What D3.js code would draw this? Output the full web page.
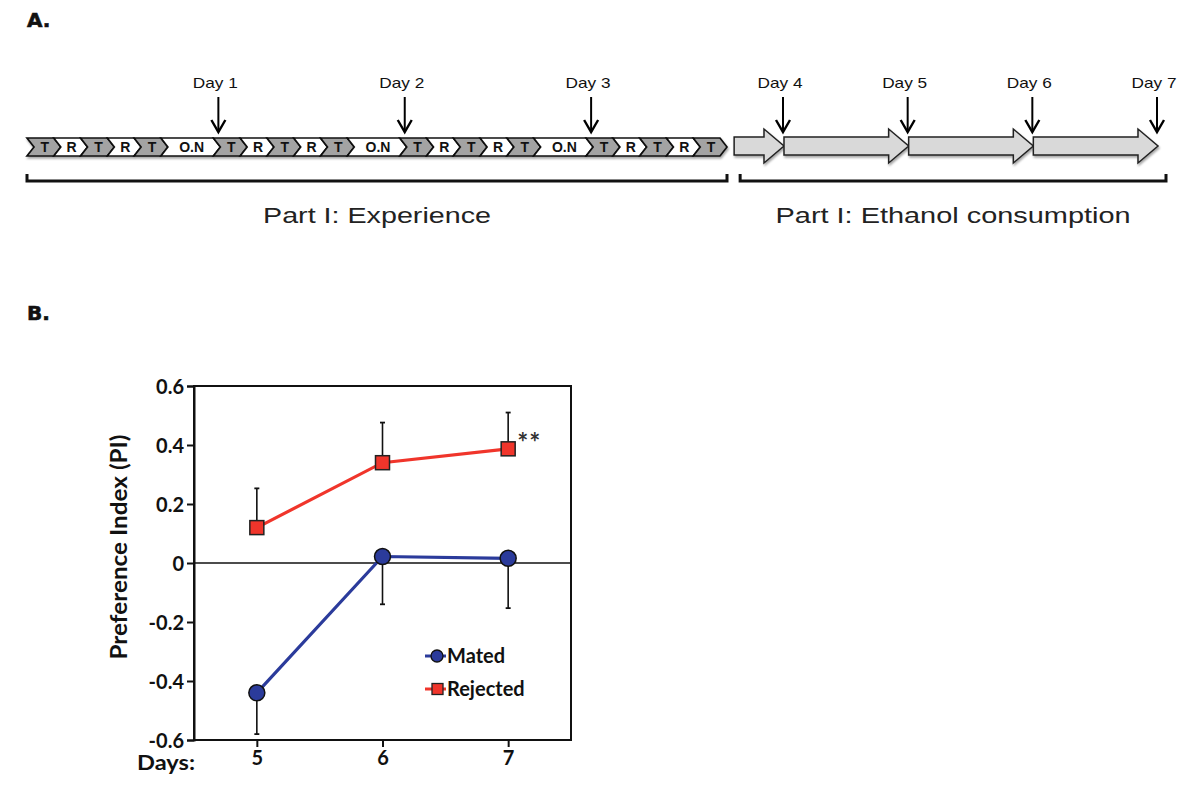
<!DOCTYPE html>
<html><head><meta charset="utf-8">
<script src="https://cdn.jsdelivr.net/npm/d3@7"></script>
<style>body{margin:0;background:#fff}svg{display:block}</style>
</head><body>
<svg id="c" width="1200" height="795"></svg>
<script>
// ---------- Data ----------
// Part A: experience schedule (label, relative duration)
const scheduleLabels = ["T","R","T","R","T","O.N","T","R","T","R","T","O.N","T","R","T","R","T","O.N","T","R","T","R","T"];
const scheduleDurations = [1,1,1,1,1,1.96,1,1,1,1,1,1.96,1,1,1,1,1,1.96,1,1,1,1,1];
const experienceDays = ["Day 1","Day 2","Day 3"];
const ethanolBounds = [3.6, 4, 5, 6, 7];
const ethanolDays = ["Day 4","Day 5","Day 6","Day 7"];
const partLabels = ["Part I: Experience","Part I: Ethanol consumption"];
// Part B: preference index
const days = [5, 6, 7];
const mated = [-0.44, 0.022, 0.016];
const matedErr = [0.14, 0.162, 0.169];
const rejected = [0.12, 0.34, 0.387];
const rejectedErr = [0.133, 0.136, 0.123];
const yTicks = [0.6, 0.4, 0.2, 0, -0.2, -0.4, -0.6];
const seriesNames = ["Mated", "Rejected"];

const svg = d3.select("#c");
const defs = svg.append("defs");
const f = defs.append("filter").attr("id","sh").attr("x","-10%").attr("y","-30%").attr("width","130%").attr("height","180%");
f.append("feDropShadow").attr("dx",1).attr("dy",2).attr("stdDeviation",1.3).attr("flood-color","#000").attr("flood-opacity",0.35);

const helv = "'Liberation Sans', Arial, sans-serif";
const cal = "Lato, 'Open Sans', sans-serif";

// Panel letters
[["A.",27],["B.",320]].forEach(([t,yy]) =>
  svg.append("text").attr("x",27).attr("y",yy).text(t).attr("font-family","'DejaVu Sans', sans-serif")
    .attr("font-weight",700).attr("font-size",20).attr("fill","#111").attr("stroke","#111").attr("stroke-width",0.6));

// ---------- Part A ----------
const cum = [0]; scheduleDurations.forEach(d => cum.push(cum[cum.length-1] + d));
const tx = d3.scaleLinear().domain([0, cum[cum.length-1]]).range([34, 727]);
const dep = 7, yTop = 138, yBot = 156, yMid = (yTop+yBot)/2;
const gA = svg.append("g");
const chev = gA.append("g").attr("filter","url(#sh)");
scheduleLabels.forEach((lab, i) => {
  const a = tx(cum[i]), b = tx(cum[i+1]);
  const pts = [[a-dep,yTop],[b-dep,yTop],[b,yMid],[b-dep,yBot],[a-dep,yBot],[a,yMid]];
  chev.append("path").attr("d", d3.line()(pts) + "Z")
    .attr("fill", lab === "T" ? "#a3a3a3" : "#ffffff")
    .attr("stroke","#111").attr("stroke-width",1.7).attr("stroke-linejoin","miter");
});
scheduleLabels.forEach((lab, i) => {
  const a = tx(cum[i]), b = tx(cum[i+1]);
  gA.append("text").attr("x",(a+b)/2 - dep/2 + 1).attr("y",yMid+5).attr("text-anchor","middle")
    .attr("font-family",helv).attr("font-weight",700).attr("font-size",14).attr("fill","#111").text(lab);
});

// big arrows
const ex = d3.scaleLinear().domain([4,7]).range([784,1158]);
const bTop = 137, bBot = 155, hTop = 129, hBot = 163, hLen = 20;
const big = gA.append("g").attr("filter","url(#sh)");
for (let i = 0; i < ethanolBounds.length-1; i++) {
  const a = ex(ethanolBounds[i]), b = ex(ethanolBounds[i+1]);
  const pts = [[a,bTop],[b-hLen,bTop],[b-hLen,hTop],[b,(bTop+bBot)/2],[b-hLen,hBot],[b-hLen,bBot],[a,bBot]];
  big.append("path").attr("d", d3.line()(pts)+"Z").attr("fill","#d9d9d9").attr("stroke","#222").attr("stroke-width",1.5);
}

// day arrows
function dayArrow(x, label) {
  const g = gA.append("g");
  g.append("line").attr("x1",x).attr("x2",x).attr("y1",97).attr("y2",132).attr("stroke","#000").attr("stroke-width",2);
  g.append("path").attr("d", d3.line()([[x-7,120],[x,132],[x+7,120]])).attr("fill","none").attr("stroke","#000").attr("stroke-width",2.4);
  g.append("text").attr("x",x-3).attr("y",88).attr("text-anchor","middle").attr("font-family",helv).attr("font-size",14.5)
    .attr("textLength",45).attr("lengthAdjust","spacingAndGlyphs").attr("fill","#111").text(label);
}
let k = 0;
scheduleLabels.forEach((lab, i) => { if (lab === "O.N") { dayArrow(tx(cum[i+1]) - 2, experienceDays[k++]); } });
ethanolDays.forEach((lab, i) => dayArrow(ex(ethanolBounds[i+1]) - 1, lab));

// brackets
function bracket(x1, x2, label, len) {
  gA.append("path").attr("d", d3.line()([[x1,174],[x1,181],[x2,181],[x2,174]]))
    .attr("fill","none").attr("stroke","#111").attr("stroke-width",3);
  gA.append("text").attr("x",(x1+x2)/2).attr("y",223).attr("text-anchor","middle")
    .attr("font-family",helv).attr("font-size",22.5).attr("textLength",len).attr("lengthAdjust","spacingAndGlyphs")
    .attr("fill","#222").text(label);
}
bracket(tx(0)-7, tx(cum[cum.length-1]), partLabels[0], 228);
bracket(ex(ethanolBounds[0])+6, ex(7)+8, partLabels[1], 355);

// ---------- Part B ----------
const x = d3.scaleLinear().domain([4.5, 7.5]).range([194, 571]);
const y = d3.scaleLinear().domain([-0.6, 0.6]).range([740, 386]);
const gB = svg.append("g");

gB.append("rect").attr("x",x(4.5)).attr("y",y(0.6)).attr("width",x(7.5)-x(4.5)).attr("height",y(-0.6)-y(0.6))
  .attr("fill","none").attr("stroke","#111").attr("stroke-width",2);

// y axis
const yAxis = d3.axisLeft(y).tickValues(yTicks).tickSize(7).tickPadding(3)
  .tickFormat(d => d === 0 ? "0" : d3.format(".1f")(d).replace("\u2212","-"));
const ya = gB.append("g").attr("transform",`translate(${x(4.5)},0)`).call(yAxis);
ya.select(".domain").attr("stroke","#111").attr("stroke-width",2);
ya.selectAll(".tick line").attr("stroke","#111").attr("stroke-width",2);
ya.selectAll(".tick text").attr("font-family",cal).attr("font-weight",700).attr("font-size",20).attr("fill","#111").attr("dy","0.35em");

// x axis
const xAxis = d3.axisBottom(x).tickValues(days).tickSize(7).tickPadding(4).tickFormat(d3.format("d"));
const xa = gB.append("g").attr("transform",`translate(0,${y(-0.6)})`).call(xAxis);
xa.select(".domain").remove();
xa.selectAll(".tick line").attr("stroke","#111").attr("stroke-width",2);
xa.selectAll(".tick text").attr("font-family",cal).attr("font-weight",700).attr("font-size",20).attr("fill","#111");
gB.append("text").attr("x",x(4.5)+1).attr("y",y(-0.6)+30).attr("text-anchor","end")
  .attr("font-family",cal).attr("font-weight",700).attr("font-size",20).attr("textLength",58).attr("lengthAdjust","spacingAndGlyphs")
  .attr("fill","#111").text("Days:");

// y label
gB.append("text").attr("transform",`translate(127,547) rotate(-90)`).attr("text-anchor","middle")
  .attr("font-family",cal).attr("font-weight",700).attr("font-size",22).attr("textLength",225).attr("lengthAdjust","spacingAndGlyphs")
  .attr("fill","#111").text("Preference Index (PI)");

// zero line
gB.append("line").attr("x1",x(4.5)).attr("x2",x(7.5)).attr("y1",y(0)).attr("y2",y(0)).attr("stroke","#111").attr("stroke-width",1.6);

// error bars
function errBars(vals, errs, dir) {
  days.forEach((d, i) => {
    const y1 = y(vals[i]), y2 = y(vals[i] + dir*errs[i]);
    gB.append("line").attr("x1",x(d)).attr("x2",x(d)).attr("y1",y1).attr("y2",y2).attr("stroke","#111").attr("stroke-width",1.6);
    gB.append("line").attr("x1",x(d)-2.5).attr("x2",x(d)+2.5).attr("y1",y2).attr("y2",y2).attr("stroke","#111").attr("stroke-width",1.8);
  });
}
errBars(rejected, rejectedErr, 1);
errBars(mated, matedErr, -1);

const blue = "#2b3b9b", red = "#f0352b";
const line = d3.line().x((d,i) => x(days[i])).y(d => y(d));
gB.append("path").attr("d", line(mated)).attr("fill","none").attr("stroke",blue).attr("stroke-width",3.2);
gB.append("path").attr("d", line(rejected)).attr("fill","none").attr("stroke",red).attr("stroke-width",3.2);

gB.selectAll(".m").data(mated).enter().append("circle").attr("cx",(d,i)=>x(days[i])).attr("cy",d=>y(d)).attr("r",8)
  .attr("fill",blue).attr("stroke","#111").attr("stroke-width",1.5);
gB.selectAll(".r").data(rejected).enter().append("rect").attr("x",(d,i)=>x(days[i])-7).attr("y",d=>y(d)-7)
  .attr("width",14).attr("height",14).attr("fill",red).attr("stroke","#222").attr("stroke-width",1.5);

// significance
gB.append("text").attr("x",x(7)+9).attr("y",y(0.387)+3).attr("font-family",cal).attr("font-weight",700)
  .attr("font-size",26).attr("fill","#333").attr("letter-spacing",1).text("**");

// legend
const lg = gB.append("g");
const lgY = [656, 689];
lg.append("line").attr("x1",425).attr("x2",446).attr("y1",lgY[0]).attr("y2",lgY[0]).attr("stroke",blue).attr("stroke-width",3);
lg.append("circle").attr("cx",437).attr("cy",lgY[0]).attr("r",6).attr("fill",blue).attr("stroke","#111").attr("stroke-width",1.3);
lg.append("line").attr("x1",425).attr("x2",446).attr("y1",lgY[1]).attr("y2",lgY[1]).attr("stroke",red).attr("stroke-width",3);
lg.append("rect").attr("x",432).attr("y",lgY[1]-5.5).attr("width",11).attr("height",11).attr("fill",red).attr("stroke","#222").attr("stroke-width",1.3);
seriesNames.forEach((s,i) => lg.append("text").attr("x",447).attr("y",lgY[i]+7).attr("font-family",cal).attr("font-weight",700)
  .attr("font-size",20).attr("fill","#111").text(s));
</script>
</body></html>
